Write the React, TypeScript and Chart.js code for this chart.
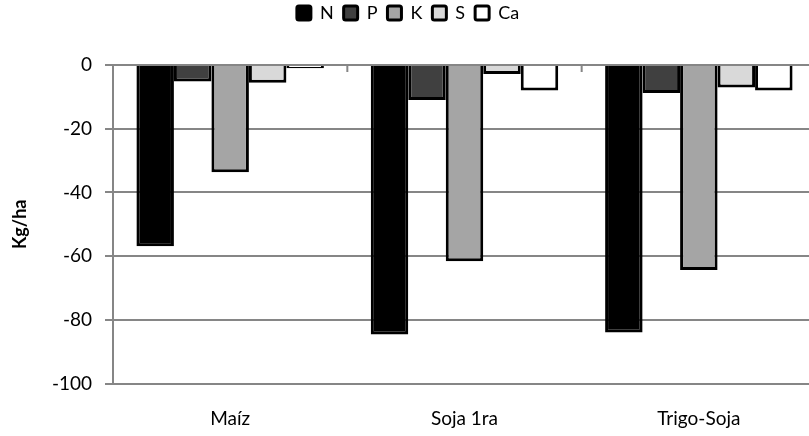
import React, { useEffect, useRef } from "react";
import { Chart, registerables } from "chart.js";

Chart.register(...registerables);

const categories = ["Maíz", "Soja 1ra", "Trigo-Soja"];
const seriesNames = ["N", "P", "K", "S", "Ca"];
const valuesN = [-56.9, -84.6, -84];
const valuesP = [-5.2, -11, -8.8];
const valuesK = [-33.7, -61.6, -64.4];
const valuesS = [-5.6, -2.8, -7.1];
const valuesCa = [-1, -8, -8];
const seriesColors = ["#000000", "#404040", "#a5a5a5", "#d9d9d9", "#ffffff"];
const yTicks = [0, -20, -40, -60, -80, -100];
const yTitle = "Kg/ha";

const GRID = "#868686";
const FONT = "Lato, 'Open Sans', sans-serif";

const legendSpace = {
  id: "legendSpace",
  beforeInit(chart: any) {
    const lg = chart.legend;
    if (!lg) return;
    const orig = lg.fit;
    lg.fit = function () {
      orig.call(this);
      this.height += 33;
    };
  },
};

const axisPlugin = {
  id: "zeroAxis",
  afterDatasetsDraw(chart: any) {
    const { ctx, scales, chartArea } = chart;
    const x = scales.x;
    const y = scales.y;
    const y0 = y.getPixelForValue(0);
    ctx.save();
    ctx.strokeStyle = GRID;
    ctx.lineWidth = 2;
    ctx.beginPath();
    ctx.moveTo(chartArea.left - 8, y0);
    ctx.lineTo(chartArea.right, y0);
    for (let i = 0; i <= categories.length; i++) {
      const px = x.getPixelForValue(i - 0.5);
      ctx.moveTo(px, y0);
      ctx.lineTo(px, y0 + 7);
    }
    ctx.stroke();
    ctx.restore();
  },
};

export default function App() {
  const ref = useRef<HTMLCanvasElement>(null);
  useEffect(() => {
    const all = [valuesN, valuesP, valuesK, valuesS, valuesCa];
    const chart = new Chart(ref.current!, {
      type: "bar",
      data: {
        labels: categories,
        datasets: all.map((d, i) => ({
          label: seriesNames[i],
          data: d,
          backgroundColor: seriesColors[i],
          borderColor: "#000000",
          borderWidth: 3,
          borderSkipped: "start",
          categoryPercentage: 0.8,
          barPercentage: 1,
        })),
      },
      options: {
        animation: false,
        responsive: false,
        maintainAspectRatio: false,
        layout: { padding: { top: -6, right: 14, left: 0, bottom: 0 } },
        plugins: {
          tooltip: { enabled: false },
          legend: {
            position: "top",
            labels: {
              color: "#000",
              font: { family: FONT, size: 18 },
              boxWidth: 14,
              boxHeight: 14,
              padding: 10,
              useBorderRadius: true,
              borderRadius: 2,
            },
          },
        },
        scales: {
          x: {
            position: "bottom",
            grid: { display: false },
            border: { display: false },
            ticks: { color: "#000", font: { family: FONT, size: 19 }, padding: 16 },
            afterFit: (s: any) => {
              s.height = 52.5;
            },
          },
          y: {
            min: -100,
            max: 0,
            afterBuildTicks: (s: any) => {
              s.ticks = yTicks.map((v) => ({ value: v }));
            },
            grid: { color: GRID, lineWidth: 2, tickLength: 8, drawTicks: true },
            border: { display: true, color: GRID, width: 2 },
            ticks: { color: "#000", font: { family: FONT, size: 19 }, padding: 13 },
            title: {
              display: true,
              text: yTitle,
              color: "#000",
              font: { family: FONT, size: 18, weight: "bold" },
              padding: { top: 9, bottom: 0 },
            },
            afterFit: (s: any) => {
              s.width = 113;
            },
          },
        },
      },
      plugins: [legendSpace, axisPlugin],
    });
    return () => chart.destroy();
  }, []);
  return (
    <div style={{ position: "fixed", left: 0, top: 0, width: 809, height: 436, overflow: "hidden", background: "#fff" }}>
      <canvas ref={ref} width={830} height={436} style={{ display: "block" }} />
    </div>
  );
}
